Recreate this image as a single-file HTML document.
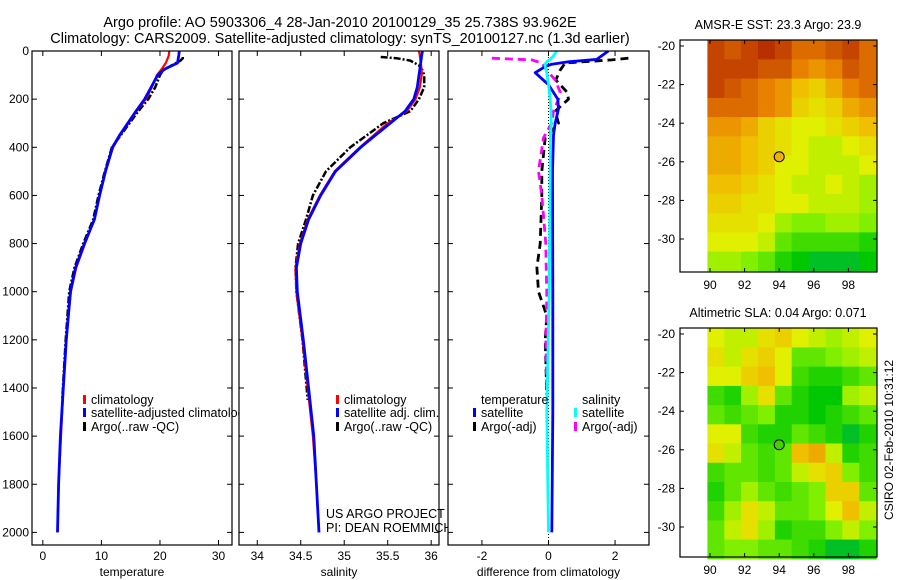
<!DOCTYPE html>
<html><head><meta charset="utf-8">
<style>
body{margin:0;background:#fff;}
svg{display:block;font-family:"Liberation Sans",sans-serif;}
text{fill:#000;}
</style></head>
<body>
<svg id="fig" width="900" height="580" viewBox="0 0 900 580" xmlns="http://www.w3.org/2000/svg">
<rect width="900" height="580" fill="#fff"/>
<text x="340" y="27" font-size="14.5" text-anchor="middle">Argo profile: AO 5903306_4 28-Jan-2010 20100129_35 25.738S 93.962E</text>
<text x="340" y="43" font-size="14.5" text-anchor="middle">Climatology: CARS2009. Satellite-adjusted climatology: synTS_20100127.nc (1.3d earlier)</text>
<g id="panels"></g>
<g id="maps"></g>
<text transform="translate(893,440) rotate(-90)" font-size="12" text-anchor="middle">CSIRO 02-Feb-2010 10:31:12</text>
</svg>
<script>
// ---- profile data ----
const depthClim = [0,20,50,75,100,150,200,250,300,350,400,500,600,700,800,900,1000,1200,1400,1600,1800,2000];
const tempClim  = [21.6,21.5,21.0,20.3,19.5,18.6,17.6,16.0,14.6,13.2,12.0,10.7,9.7,8.8,7.2,5.7,4.8,4.0,3.5,3.1,2.7,2.5];
const tempSat   = [23.3,23.2,23.0,20.8,19.6,18.5,17.4,15.9,14.5,13.1,11.9,10.7,9.7,8.8,7.1,5.6,4.7,4.0,3.5,3.0,2.7,2.5];
const salClim   = [35.86,35.87,35.88,35.89,35.89,35.87,35.82,35.72,35.50,35.34,35.18,34.89,34.72,34.58,34.49,34.44,34.45,34.52,34.58,34.64,34.68,34.71];
const salSat    = [35.90,35.89,35.88,35.87,35.86,35.84,35.80,35.70,35.53,35.36,35.19,34.90,34.73,34.59,34.50,34.45,34.46,34.53,34.59,34.65,34.68,34.71];
const depthArgo = [25,30,40,60,80,100,150,200,250,300,400,500,600,700,800,900,1000,1200,1450];
const tempArgo  = [23.9,23.9,23.5,22.0,20.5,20.0,19.2,18.0,16.3,14.8,11.8,10.6,9.5,8.6,6.9,5.4,4.5,3.9,3.3];
const salArgo   = [35.42,35.60,35.76,35.86,35.90,35.92,35.92,35.86,35.76,35.45,35.07,34.79,34.64,34.56,34.47,34.44,34.45,34.52,34.58];
const depthDiff = [0,20,35,45,55,65,90,140,200,240,300,350,500,1000,1500,2000];
const dTempSat  = [1.8,1.6,1.45,0.6,0.1,-0.1,-0.4,0.0,0.28,0.3,0.2,0.15,0.12,0.13,0.13,0.1];
const dSalSat   = [0.25,0.15,0.05,-0.05,-0.1,-0.1,-0.05,0.0,0.05,0.07,0.08,0.06,0.05,0.02,-0.05,0.0];
const depthDArgo= [30,37,50,80,120,170,200,250,300,360,500,600,800,900,1000,1100,1200,1430];
const dTempArgo = [2.4,1.9,0.5,0.35,0.22,0.55,0.6,0.2,0.3,-0.1,-0.2,-0.2,-0.25,-0.35,-0.3,-0.05,-0.1,-0.05];
const dSalArgo  = [-1.7,-0.5,-0.2,-0.05,0.2,0.35,0.3,0.15,0.1,-0.15,-0.3,-0.2,-0.08,-0.07,-0.05,-0.06,-0.08,-0.05];
const depthTicks = [0,200,400,600,800,1000,1200,1400,1600,1800,2000];
const tempTicks = [0,10,20,30];
const salTicks = [34,34.5,35,35.5,36];
const diffTicks = [-2,0,2];
// ---- map data (rows lat -20..-31, cols lon 90..99) ----
const sstGrid = [
[.95,.9,.95,1,.95,.85,.85,.9,.95,.85],
[.95,.95,.95,.9,.9,.8,.75,.8,.9,.85],
[.95,.9,.85,.8,.75,.65,.6,.7,.8,.85],
[.85,.85,.85,.8,.75,.6,.55,.6,.7,.75],
[.75,.75,.7,.6,.55,.5,.5,.55,.6,.65],
[.7,.7,.65,.6,.55,.5,.45,.45,.5,.55],
[.7,.7,.65,.6,.5,.5,.45,.45,.45,.5],
[.65,.65,.6,.55,.5,.45,.45,.5,.45,.4],
[.6,.6,.55,.55,.5,.5,.45,.45,.45,.4],
[.55,.55,.55,.5,.4,.35,.35,.4,.4,.35],
[.5,.5,.5,.45,.3,.25,.25,.25,.25,.2],
[.4,.4,.35,.3,.2,.15,.1,.1,.1,.15]];
const slaGrid = [
[.5,.45,.45,.55,.6,.5,.45,.4,.45,.5],
[.55,.45,.55,.6,.5,.3,.3,.35,.4,.45],
[.5,.5,.6,.65,.5,.25,.2,.2,.25,.3],
[.25,.2,.4,.55,.3,.2,.15,.15,.4,.45],
[.3,.25,.3,.35,.2,.2,.15,.2,.25,.3],
[.5,.5,.25,.2,.2,.3,.25,.2,.1,.2],
[.55,.45,.3,.25,.3,.65,.7,.45,.2,.25],
[.25,.3,.3,.25,.3,.45,.55,.6,.35,.25],
[.2,.3,.4,.3,.25,.3,.35,.6,.6,.3],
[.25,.4,.55,.45,.3,.3,.35,.5,.65,.45],
[.3,.45,.55,.4,.2,.25,.25,.35,.45,.35],
[.3,.35,.35,.3,.3,.25,.2,.1,.1,.2]];
const latTicks = [-20,-22,-24,-26,-28,-30];
const lonTicks = [90,92,94,96,98];
const argoPos = [94.0,-25.74];

const NS="http://www.w3.org/2000/svg";
function mk(tag,attrs,parent,txt){const e=document.createElementNS(NS,tag);for(const k in attrs)e.setAttribute(k,attrs[k]);if(txt!==undefined)e.textContent=txt;parent.appendChild(e);return e;}
const panels=document.getElementById('panels');
const TOP=51,BOT=545;
function yD(d){return 51+d*0.2407;}

function panel(name,x0,x1,xmin,xmax,ticks,label,showY){
  const g=mk('g',{},panels);
  
  
  const sx=v=>x0+(v-xmin)/(xmax-xmin)*(x1-x0);
  const bg=mk('rect',{x:x0,y:TOP,width:x1-x0,height:BOT-TOP,fill:'#fff'},g);
  
  
  const clipId='clip-'+name;
  const cp=mk('clipPath',{id:clipId},g);mk('rect',{x:x0,y:TOP,width:x1-x0,height:BOT-TOP},cp);
  const inner=mk('g',{'clip-path':'url(#'+clipId+')'},g);
  ticks.forEach(t=>{const x=sx(t);
    mk('line',{x1:x,y1:BOT,x2:x,y2:BOT-5,stroke:'#000'},g);
    mk('line',{x1:x,y1:TOP,x2:x,y2:TOP+5,stroke:'#000'},g);
    const tl=mk('text',{x:x,y:BOT+15,'font-size':12,'text-anchor':'middle'},g,String(t));
    
    
  });
  depthTicks.forEach(d=>{const y=yD(d);
    mk('line',{x1:x0,y1:y,x2:x0+5,y2:y,stroke:'#000'},g);
    mk('line',{x1:x1,y1:y,x2:x1-5,y2:y,stroke:'#000'},g);
    if(showY){const tl=mk('text',{x:x0-3,y:y+4,'font-size':12,'text-anchor':'end'},g,String(d));
      
      }
  });
  const xl=mk('text',{x:(x0+x1)/2,y:BOT+31,'font-size':12,'text-anchor':'middle'},g,label);
  
  
  return {g,inner,sx,x0,x1};
}
function line(p,depths,vals,color,w,dash,nm){
  const pts=depths.map((d,i)=>p.sx(vals[i]).toFixed(1)+','+yD(d).toFixed(1)).join(' ');
  const a={points:pts,fill:'none',stroke:color,'stroke-width':w,'stroke-linejoin':'round'};
  if(dash)a['stroke-dasharray']=dash;
  const e=mk('polyline',a,p.inner);
  
  
}
function box(p){const b=mk('rect',{x:p.x0,y:TOP,width:p.x1-p.x0,height:BOT-TOP,fill:'none',stroke:'#000','stroke-width':1.2},p.g);
  
  }
function legItem(g,x,y,color,txt,nm){
  const r=mk('rect',{x:x,y:y-8,width:3,height:9,fill:color},g);
  const t=mk('text',{x:x+8,y:y+1,'font-size':12.5},g,txt);
  
  
  
  
}

// Panel 1 temperature
const p1=panel('temperature',32,232,-1.85,32.3,tempTicks,'temperature',true);
line(p1,depthArgo,tempArgo,'#000',2.5,'7,2,2,2','temperature-argo-line');
line(p1,depthClim,tempClim,'#f00',2.2,null,'temperature-climatology-line');
line(p1,depthClim,tempSat,'#00f',2.8,null,'temperature-satellite-line');
const lg1=mk('g',{},p1.g);


legItem(lg1,83,403,'#f00','climatology','legend-entry-climatology');
legItem(lg1,83,416,'#00f','satellite-adjusted climatology','legend-entry-satellite-adjusted');
legItem(lg1,83,430,'#000','Argo(..raw -QC)','legend-entry-argo');

// Panel 2 salinity
const p2=panel('salinity',239,439,33.79,36.09,salTicks,'salinity',false);
line(p2,depthArgo,salArgo,'#000',2.5,'7,2,2,2','salinity-argo-line');
line(p2,depthClim,salClim,'#f00',2.2,null,'salinity-climatology-line');
line(p2,depthClim,salSat,'#00f',2.8,null,'salinity-satellite-line');
const lg2=mk('g',{},p2.g);


legItem(lg2,336,403,'#f00','climatology','legend-entry-climatology');
legItem(lg2,336,416,'#00f','satellite adj. clim.','legend-entry-satellite-adj');
legItem(lg2,336,430,'#000','Argo(..raw -QC)','legend-entry-argo');
const c1=mk('text',{x:326,y:518,'font-size':12.5},p2.g,'US ARGO PROJECT');


const c2=mk('text',{x:326,y:532,'font-size':12.5},p2.g,'PI: DEAN ROEMMICH');



// Panel 3 difference
const p3=panel('difference',448,649,-3.02,3.02,diffTicks,'difference from climatology',false);
const z=mk('line',{x1:p3.sx(0),y1:TOP,x2:p3.sx(0),y2:BOT,stroke:'#000','stroke-dasharray':'1,2'},p3.inner);


line(p3,depthDArgo,dTempArgo,'#000',2.8,'8,5','temperature-argo-diff-line');
line(p3,depthDArgo,dSalArgo,'#f0f',2.8,'8,5','salinity-argo-diff-line');
line(p3,depthDiff,dTempSat,'#00f',2.8,null,'temperature-satellite-diff-line');
line(p3,depthDiff,dSalSat,'#0ff',2.8,null,'salinity-satellite-diff-line');
const lg3=mk('g',{},p3.g);


const h1=mk('text',{x:481,y:404,'font-size':12.5},lg3,'temperature');


const h2=mk('text',{x:582,y:404,'font-size':12.5},lg3,'salinity');


legItem(lg3,473,416,'#00f','satellite','legend-entry-temp-satellite');
legItem(lg3,473,430,'#000','Argo(-adj)','legend-entry-temp-argo');
legItem(lg3,574,416,'#0ff','satellite','legend-entry-sal-satellite');
legItem(lg3,574,430,'#f0f','Argo(-adj)','legend-entry-sal-argo');
[p1,p2,p3].forEach(box);

// ---- maps ----
const stops=[[0,[0,176,112]],[0.15,[0,200,0]],[0.35,[128,240,0]],[0.5,[224,240,0]],[0.65,[240,192,0]],[0.8,[232,128,0]],[1,[184,48,0]]];
function cmap(v){for(let i=1;i<stops.length;i++){if(v<=stops[i][0]){const a=stops[i-1],b=stops[i];const t=(v-a[0])/(b[0]-a[0]);const c=a[1].map((x,k)=>Math.round(x+(b[1][k]-x)*t));return 'rgb('+c.join(',')+')';}}return 'rgb(184,48,0)';}
const maps=document.getElementById('maps');
function mapPanel(name,title,grid,top,bot,circFill){
  const g=mk('g',{},maps);
  
  
  const L=680,R=877;
  const lat0=top+6,latScale=19.3;
  const sy=lat=>lat0+(-20-lat)*latScale;
  const sx=lon=>710+(lon-90)*17.3;
  const t=mk('text',{x:778,y:top-11,'font-size':12.5,'text-anchor':'middle'},g,title);
  
  
  const lonL=89.85,lonR=99.6,latT=-19.7,latB=-31.65;
  const cw=(lonR-lonL)/10,ch=(latT-latB)/12;
  grid.forEach((row,r)=>row.forEach((v,c)=>{
    const x=sx(lonL+c*cw),y=sy(latT-r*ch);
    const cell=mk('rect',{x:x.toFixed(1),y:y.toFixed(1),width:(sx(lonL+(c+1)*cw)-x+0.6).toFixed(1),height:(sy(latT-(r+1)*ch)-y+0.6).toFixed(1),fill:cmap(v)},g);
    
    
  }));
  const b=mk('rect',{x:L,y:top,width:R-L,height:bot-top,fill:'none',stroke:'#000','stroke-width':1.2},g);
  
  
  latTicks.forEach(l=>{const y=sy(l);
    mk('line',{x1:L,y1:y,x2:L+4,y2:y,stroke:'#000'},g);
    mk('line',{x1:R,y1:y,x2:R-4,y2:y,stroke:'#000'},g);
    const tl=mk('text',{x:L-5,y:y+4,'font-size':12,'text-anchor':'end'},g,String(l));
    
    });
  lonTicks.forEach(l=>{const x=sx(l);
    mk('line',{x1:x,y1:bot,x2:x,y2:bot-4,stroke:'#000'},g);
    mk('line',{x1:x,y1:top,x2:x,y2:top+4,stroke:'#000'},g);
    const tl=mk('text',{x:x,y:bot+17,'font-size':12,'text-anchor':'middle'},g,String(l));
    
    });
  const c=mk('circle',{cx:sx(argoPos[0]),cy:sy(argoPos[1]),r:5,fill:circFill,stroke:'#000','stroke-width':1},g);
  
  
}
mapPanel('sst','AMSR-E SST: 23.3 Argo: 23.9',sstGrid,40,272,'#f0b000');
mapPanel('sla','Altimetric SLA: 0.04 Argo: 0.071',slaGrid,328,557,'#40d000');
</script>
</body></html>
